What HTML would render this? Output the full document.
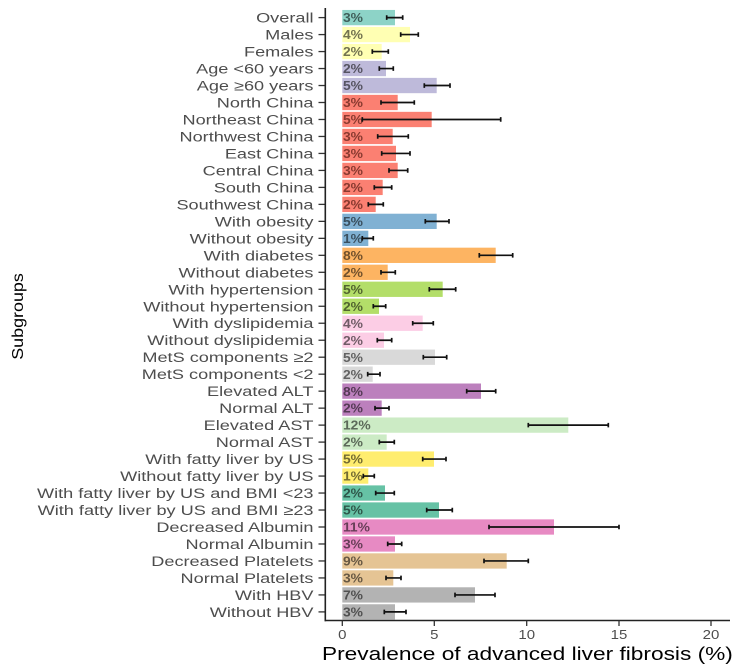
<!DOCTYPE html>
<html><head><meta charset="utf-8"><style>
html,body{margin:0;padding:0;background:#fff;}
svg{display:block;}
.yl{font-family:"Liberation Sans",Arial,sans-serif;font-size:14px;fill:#4d4d4d;text-anchor:end;}
.bl{font-family:"Liberation Sans",Arial,sans-serif;font-size:13px;font-weight:bold;}
.tk{stroke:#333;stroke-width:1.3;}
.eb{stroke:#111;stroke-width:1.7;fill:none;}
.xl{font-family:"Liberation Sans",Arial,sans-serif;font-size:12.5px;fill:#4d4d4d;text-anchor:middle;}
</style></head><body>
<svg width="742" height="672" viewBox="0 0 742 672" xmlns="http://www.w3.org/2000/svg">
<rect width="742" height="672" fill="#fff"/>

<g transform="translate(0,17.6)"><text class="yl" transform="translate(313.5,5) scale(1.296,1)">Overall</text><line class="tk" x1="318.5" x2="325" y1="0" y2="0"/><rect x="342.3" y="-7.65" width="52.7" height="15.3" fill="#8DD3C7"/><text class="bl" fill="#3F5F5A" transform="translate(343,4.6) scale(1.065,1)">3%</text><path class="eb" d="M386.7 0H402.7M386.7 -2.3V2.3M402.7 -2.3V2.3"/></g>
<g transform="translate(0,34.58)"><text class="yl" transform="translate(313.5,5) scale(1.296,1)">Males</text><line class="tk" x1="318.5" x2="325" y1="0" y2="0"/><rect x="342.3" y="-7.65" width="67.7" height="15.3" fill="#FFFFB3"/><text class="bl" fill="#737350" transform="translate(343,4.6) scale(1.065,1)">4%</text><path class="eb" d="M400.7 0H418.3M400.7 -2.3V2.3M418.3 -2.3V2.3"/></g>
<g transform="translate(0,51.56)"><text class="yl" transform="translate(313.5,5) scale(1.296,1)">Females</text><line class="tk" x1="318.5" x2="325" y1="0" y2="0"/><rect x="342.3" y="-7.65" width="39.4" height="15.3" fill="#FFFFB3"/><text class="bl" fill="#737350" transform="translate(343,4.6) scale(1.065,1)">2%</text><path class="eb" d="M372.3 0H388.3M372.3 -2.3V2.3M388.3 -2.3V2.3"/></g>
<g transform="translate(0,68.54)"><text class="yl" transform="translate(313.5,5) scale(1.296,1)">Age &lt;60 years</text><line class="tk" x1="318.5" x2="325" y1="0" y2="0"/><rect x="342.3" y="-7.65" width="43.7" height="15.3" fill="#BEBADA"/><text class="bl" fill="#565462" transform="translate(343,4.6) scale(1.065,1)">2%</text><path class="eb" d="M379.3 0H393.3M379.3 -2.3V2.3M393.3 -2.3V2.3"/></g>
<g transform="translate(0,85.52)"><text class="yl" transform="translate(313.5,5) scale(1.296,1)">Age ≥60 years</text><line class="tk" x1="318.5" x2="325" y1="0" y2="0"/><rect x="342.3" y="-7.65" width="94.4" height="15.3" fill="#BEBADA"/><text class="bl" fill="#565462" transform="translate(343,4.6) scale(1.065,1)">5%</text><path class="eb" d="M424.3 0H450M424.3 -2.3V2.3M450 -2.3V2.3"/></g>
<g transform="translate(0,102.5)"><text class="yl" transform="translate(313.5,5) scale(1.296,1)">North China</text><line class="tk" x1="318.5" x2="325" y1="0" y2="0"/><rect x="342.3" y="-7.65" width="55.4" height="15.3" fill="#FB8072"/><text class="bl" fill="#8A3A30" transform="translate(343,4.6) scale(1.065,1)">3%</text><path class="eb" d="M381 0H414.3M381 -2.3V2.3M414.3 -2.3V2.3"/></g>
<g transform="translate(0,119.48)"><text class="yl" transform="translate(313.5,5) scale(1.296,1)">Northeast China</text><line class="tk" x1="318.5" x2="325" y1="0" y2="0"/><rect x="342.3" y="-7.65" width="89.4" height="15.3" fill="#FB8072"/><text class="bl" fill="#8A3A30" transform="translate(343,4.6) scale(1.065,1)">5%</text><path class="eb" d="M362.3 0H500.7M362.3 -2.3V2.3M500.7 -2.3V2.3"/></g>
<g transform="translate(0,136.46)"><text class="yl" transform="translate(313.5,5) scale(1.296,1)">Northwest China</text><line class="tk" x1="318.5" x2="325" y1="0" y2="0"/><rect x="342.3" y="-7.65" width="50.4" height="15.3" fill="#FB8072"/><text class="bl" fill="#8A3A30" transform="translate(343,4.6) scale(1.065,1)">3%</text><path class="eb" d="M377.7 0H408.3M377.7 -2.3V2.3M408.3 -2.3V2.3"/></g>
<g transform="translate(0,153.44)"><text class="yl" transform="translate(313.5,5) scale(1.296,1)">East China</text><line class="tk" x1="318.5" x2="325" y1="0" y2="0"/><rect x="342.3" y="-7.65" width="53.7" height="15.3" fill="#FB8072"/><text class="bl" fill="#8A3A30" transform="translate(343,4.6) scale(1.065,1)">3%</text><path class="eb" d="M381.7 0H410M381.7 -2.3V2.3M410 -2.3V2.3"/></g>
<g transform="translate(0,170.42)"><text class="yl" transform="translate(313.5,5) scale(1.296,1)">Central China</text><line class="tk" x1="318.5" x2="325" y1="0" y2="0"/><rect x="342.3" y="-7.65" width="55.4" height="15.3" fill="#FB8072"/><text class="bl" fill="#8A3A30" transform="translate(343,4.6) scale(1.065,1)">3%</text><path class="eb" d="M389 0H407.7M389 -2.3V2.3M407.7 -2.3V2.3"/></g>
<g transform="translate(0,187.4)"><text class="yl" transform="translate(313.5,5) scale(1.296,1)">South China</text><line class="tk" x1="318.5" x2="325" y1="0" y2="0"/><rect x="342.3" y="-7.65" width="40.4" height="15.3" fill="#FB8072"/><text class="bl" fill="#8A3A30" transform="translate(343,4.6) scale(1.065,1)">2%</text><path class="eb" d="M374.3 0H391.7M374.3 -2.3V2.3M391.7 -2.3V2.3"/></g>
<g transform="translate(0,204.38)"><text class="yl" transform="translate(313.5,5) scale(1.296,1)">Southwest China</text><line class="tk" x1="318.5" x2="325" y1="0" y2="0"/><rect x="342.3" y="-7.65" width="33.4" height="15.3" fill="#FB8072"/><text class="bl" fill="#8A3A30" transform="translate(343,4.6) scale(1.065,1)">2%</text><path class="eb" d="M368.3 0H383.3M368.3 -2.3V2.3M383.3 -2.3V2.3"/></g>
<g transform="translate(0,221.36)"><text class="yl" transform="translate(313.5,5) scale(1.296,1)">With obesity</text><line class="tk" x1="318.5" x2="325" y1="0" y2="0"/><rect x="342.3" y="-7.65" width="94.4" height="15.3" fill="#80B1D3"/><text class="bl" fill="#3A505F" transform="translate(343,4.6) scale(1.065,1)">5%</text><path class="eb" d="M425.3 0H449M425.3 -2.3V2.3M449 -2.3V2.3"/></g>
<g transform="translate(0,238.34)"><text class="yl" transform="translate(313.5,5) scale(1.296,1)">Without obesity</text><line class="tk" x1="318.5" x2="325" y1="0" y2="0"/><rect x="342.3" y="-7.65" width="26" height="15.3" fill="#80B1D3"/><text class="bl" fill="#3A505F" transform="translate(343,4.6) scale(1.065,1)">1%</text><path class="eb" d="M362.3 0H373.3M362.3 -2.3V2.3M373.3 -2.3V2.3"/></g>
<g transform="translate(0,255.32)"><text class="yl" transform="translate(313.5,5) scale(1.296,1)">With diabetes</text><line class="tk" x1="318.5" x2="325" y1="0" y2="0"/><rect x="342.3" y="-7.65" width="153.4" height="15.3" fill="#FDB462"/><text class="bl" fill="#72512C" transform="translate(343,4.6) scale(1.065,1)">8%</text><path class="eb" d="M479.3 0H512.7M479.3 -2.3V2.3M512.7 -2.3V2.3"/></g>
<g transform="translate(0,272.3)"><text class="yl" transform="translate(313.5,5) scale(1.296,1)">Without diabetes</text><line class="tk" x1="318.5" x2="325" y1="0" y2="0"/><rect x="342.3" y="-7.65" width="45.4" height="15.3" fill="#FDB462"/><text class="bl" fill="#72512C" transform="translate(343,4.6) scale(1.065,1)">2%</text><path class="eb" d="M381 0H395.3M381 -2.3V2.3M395.3 -2.3V2.3"/></g>
<g transform="translate(0,289.28)"><text class="yl" transform="translate(313.5,5) scale(1.296,1)">With hypertension</text><line class="tk" x1="318.5" x2="325" y1="0" y2="0"/><rect x="342.3" y="-7.65" width="100.4" height="15.3" fill="#B3DE69"/><text class="bl" fill="#51642F" transform="translate(343,4.6) scale(1.065,1)">5%</text><path class="eb" d="M429.3 0H455.7M429.3 -2.3V2.3M455.7 -2.3V2.3"/></g>
<g transform="translate(0,306.26)"><text class="yl" transform="translate(313.5,5) scale(1.296,1)">Without hypertension</text><line class="tk" x1="318.5" x2="325" y1="0" y2="0"/><rect x="342.3" y="-7.65" width="36.7" height="15.3" fill="#B3DE69"/><text class="bl" fill="#51642F" transform="translate(343,4.6) scale(1.065,1)">2%</text><path class="eb" d="M373.3 0H385.7M373.3 -2.3V2.3M385.7 -2.3V2.3"/></g>
<g transform="translate(0,323.24)"><text class="yl" transform="translate(313.5,5) scale(1.296,1)">With dyslipidemia</text><line class="tk" x1="318.5" x2="325" y1="0" y2="0"/><rect x="342.3" y="-7.65" width="80.4" height="15.3" fill="#FCCDE5"/><text class="bl" fill="#715C67" transform="translate(343,4.6) scale(1.065,1)">4%</text><path class="eb" d="M412.7 0H433.3M412.7 -2.3V2.3M433.3 -2.3V2.3"/></g>
<g transform="translate(0,340.22)"><text class="yl" transform="translate(313.5,5) scale(1.296,1)">Without dyslipidemia</text><line class="tk" x1="318.5" x2="325" y1="0" y2="0"/><rect x="342.3" y="-7.65" width="41.7" height="15.3" fill="#FCCDE5"/><text class="bl" fill="#715C67" transform="translate(343,4.6) scale(1.065,1)">2%</text><path class="eb" d="M377.3 0H391.7M377.3 -2.3V2.3M391.7 -2.3V2.3"/></g>
<g transform="translate(0,357.2)"><text class="yl" transform="translate(313.5,5) scale(1.296,1)">MetS components ≥2</text><line class="tk" x1="318.5" x2="325" y1="0" y2="0"/><rect x="342.3" y="-7.65" width="92.7" height="15.3" fill="#D9D9D9"/><text class="bl" fill="#626262" transform="translate(343,4.6) scale(1.065,1)">5%</text><path class="eb" d="M423.3 0H446.7M423.3 -2.3V2.3M446.7 -2.3V2.3"/></g>
<g transform="translate(0,374.18)"><text class="yl" transform="translate(313.5,5) scale(1.296,1)">MetS components &lt;2</text><line class="tk" x1="318.5" x2="325" y1="0" y2="0"/><rect x="342.3" y="-7.65" width="30.4" height="15.3" fill="#D9D9D9"/><text class="bl" fill="#626262" transform="translate(343,4.6) scale(1.065,1)">2%</text><path class="eb" d="M367.7 0H380M367.7 -2.3V2.3M380 -2.3V2.3"/></g>
<g transform="translate(0,391.16)"><text class="yl" transform="translate(313.5,5) scale(1.296,1)">Elevated ALT</text><line class="tk" x1="318.5" x2="325" y1="0" y2="0"/><rect x="342.3" y="-7.65" width="138.7" height="15.3" fill="#BC80BD"/><text class="bl" fill="#553A55" transform="translate(343,4.6) scale(1.065,1)">8%</text><path class="eb" d="M466.7 0H495.7M466.7 -2.3V2.3M495.7 -2.3V2.3"/></g>
<g transform="translate(0,408.14)"><text class="yl" transform="translate(313.5,5) scale(1.296,1)">Normal ALT</text><line class="tk" x1="318.5" x2="325" y1="0" y2="0"/><rect x="342.3" y="-7.65" width="39.4" height="15.3" fill="#BC80BD"/><text class="bl" fill="#553A55" transform="translate(343,4.6) scale(1.065,1)">2%</text><path class="eb" d="M375 0H389M375 -2.3V2.3M389 -2.3V2.3"/></g>
<g transform="translate(0,425.12)"><text class="yl" transform="translate(313.5,5) scale(1.296,1)">Elevated AST</text><line class="tk" x1="318.5" x2="325" y1="0" y2="0"/><rect x="342.3" y="-7.65" width="226" height="15.3" fill="#CCEBC5"/><text class="bl" fill="#5C6A59" transform="translate(343,4.6) scale(1.065,1)">12%</text><path class="eb" d="M528.3 0H608.3M528.3 -2.3V2.3M608.3 -2.3V2.3"/></g>
<g transform="translate(0,442.1)"><text class="yl" transform="translate(313.5,5) scale(1.296,1)">Normal AST</text><line class="tk" x1="318.5" x2="325" y1="0" y2="0"/><rect x="342.3" y="-7.65" width="44.4" height="15.3" fill="#CCEBC5"/><text class="bl" fill="#5C6A59" transform="translate(343,4.6) scale(1.065,1)">2%</text><path class="eb" d="M379.3 0H394.3M379.3 -2.3V2.3M394.3 -2.3V2.3"/></g>
<g transform="translate(0,459.08)"><text class="yl" transform="translate(313.5,5) scale(1.296,1)">With fatty liver by US</text><line class="tk" x1="318.5" x2="325" y1="0" y2="0"/><rect x="342.3" y="-7.65" width="91.7" height="15.3" fill="#FFED6F"/><text class="bl" fill="#736B32" transform="translate(343,4.6) scale(1.065,1)">5%</text><path class="eb" d="M422.7 0H446M422.7 -2.3V2.3M446 -2.3V2.3"/></g>
<g transform="translate(0,476.06)"><text class="yl" transform="translate(313.5,5) scale(1.296,1)">Without fatty liver by US</text><line class="tk" x1="318.5" x2="325" y1="0" y2="0"/><rect x="342.3" y="-7.65" width="26" height="15.3" fill="#FFED6F"/><text class="bl" fill="#736B32" transform="translate(343,4.6) scale(1.065,1)">1%</text><path class="eb" d="M363.3 0H374.3M363.3 -2.3V2.3M374.3 -2.3V2.3"/></g>
<g transform="translate(0,493.04)"><text class="yl" transform="translate(313.5,5) scale(1.296,1)">With fatty liver by US and BMI &lt;23</text><line class="tk" x1="318.5" x2="325" y1="0" y2="0"/><rect x="342.3" y="-7.65" width="42.7" height="15.3" fill="#66C2A5"/><text class="bl" fill="#2E574A" transform="translate(343,4.6) scale(1.065,1)">2%</text><path class="eb" d="M375.7 0H394.3M375.7 -2.3V2.3M394.3 -2.3V2.3"/></g>
<g transform="translate(0,510.02)"><text class="yl" transform="translate(313.5,5) scale(1.296,1)">With fatty liver by US and BMI ≥23</text><line class="tk" x1="318.5" x2="325" y1="0" y2="0"/><rect x="342.3" y="-7.65" width="96.7" height="15.3" fill="#66C2A5"/><text class="bl" fill="#2E574A" transform="translate(343,4.6) scale(1.065,1)">5%</text><path class="eb" d="M426.7 0H452.3M426.7 -2.3V2.3M452.3 -2.3V2.3"/></g>
<g transform="translate(0,527)"><text class="yl" transform="translate(313.5,5) scale(1.296,1)">Decreased Albumin</text><line class="tk" x1="318.5" x2="325" y1="0" y2="0"/><rect x="342.3" y="-7.65" width="211.7" height="15.3" fill="#E78AC3"/><text class="bl" fill="#683E58" transform="translate(343,4.6) scale(1.065,1)">11%</text><path class="eb" d="M489 0H619M489 -2.3V2.3M619 -2.3V2.3"/></g>
<g transform="translate(0,543.98)"><text class="yl" transform="translate(313.5,5) scale(1.296,1)">Normal Albumin</text><line class="tk" x1="318.5" x2="325" y1="0" y2="0"/><rect x="342.3" y="-7.65" width="52.7" height="15.3" fill="#E78AC3"/><text class="bl" fill="#683E58" transform="translate(343,4.6) scale(1.065,1)">3%</text><path class="eb" d="M387.7 0H401.7M387.7 -2.3V2.3M401.7 -2.3V2.3"/></g>
<g transform="translate(0,560.96)"><text class="yl" transform="translate(313.5,5) scale(1.296,1)">Decreased Platelets</text><line class="tk" x1="318.5" x2="325" y1="0" y2="0"/><rect x="342.3" y="-7.65" width="164.4" height="15.3" fill="#E5C494"/><text class="bl" fill="#675843" transform="translate(343,4.6) scale(1.065,1)">9%</text><path class="eb" d="M484 0H528.3M484 -2.3V2.3M528.3 -2.3V2.3"/></g>
<g transform="translate(0,577.94)"><text class="yl" transform="translate(313.5,5) scale(1.296,1)">Normal Platelets</text><line class="tk" x1="318.5" x2="325" y1="0" y2="0"/><rect x="342.3" y="-7.65" width="51" height="15.3" fill="#E5C494"/><text class="bl" fill="#675843" transform="translate(343,4.6) scale(1.065,1)">3%</text><path class="eb" d="M386 0H401M386 -2.3V2.3M401 -2.3V2.3"/></g>
<g transform="translate(0,594.92)"><text class="yl" transform="translate(313.5,5) scale(1.296,1)">With HBV</text><line class="tk" x1="318.5" x2="325" y1="0" y2="0"/><rect x="342.3" y="-7.65" width="132.7" height="15.3" fill="#B3B3B3"/><text class="bl" fill="#515151" transform="translate(343,4.6) scale(1.065,1)">7%</text><path class="eb" d="M455 0H495M455 -2.3V2.3M495 -2.3V2.3"/></g>
<g transform="translate(0,611.9)"><text class="yl" transform="translate(313.5,5) scale(1.296,1)">Without HBV</text><line class="tk" x1="318.5" x2="325" y1="0" y2="0"/><rect x="342.3" y="-7.65" width="52.7" height="15.3" fill="#B3B3B3"/><text class="bl" fill="#515151" transform="translate(343,4.6) scale(1.065,1)">3%</text><path class="eb" d="M384.3 0H406M384.3 -2.3V2.3M406 -2.3V2.3"/></g>

<!-- axes -->
<line x1="325.3" y1="8" x2="325.3" y2="621.3" stroke="#222" stroke-width="1.6"/>
<line x1="324.5" y1="620.5" x2="730" y2="620.5" stroke="#222" stroke-width="1.6"/>
<line class="tk" x1="342.3" x2="342.3" y1="620.5" y2="626"/>
<line class="tk" x1="434.3" x2="434.3" y1="620.5" y2="626"/>
<line class="tk" x1="526.7" x2="526.7" y1="620.5" y2="626"/>
<line class="tk" x1="619" x2="619" y1="620.5" y2="626"/>
<line class="tk" x1="711" x2="711" y1="620.5" y2="626"/>
<text class="xl" transform="translate(342.3,639) scale(1.2,1)">0</text>
<text class="xl" transform="translate(434.3,639) scale(1.2,1)">5</text>
<text class="xl" transform="translate(526.7,639) scale(1.2,1)">10</text>
<text class="xl" transform="translate(619,639) scale(1.2,1)">15</text>
<text class="xl" transform="translate(711,639) scale(1.2,1)">20</text>

<text transform="translate(527.4,660) scale(1.227,1)" font-family="Liberation Sans, Arial, sans-serif" font-size="18.5" fill="#000" text-anchor="middle">Prevalence of advanced liver fibrosis (%)</text>
<text transform="translate(23,316.5) rotate(-90) scale(1.12,1)" font-family="Liberation Sans, Arial, sans-serif" font-size="16" fill="#000" text-anchor="middle">Subgroups</text>
</svg>
</body></html>
